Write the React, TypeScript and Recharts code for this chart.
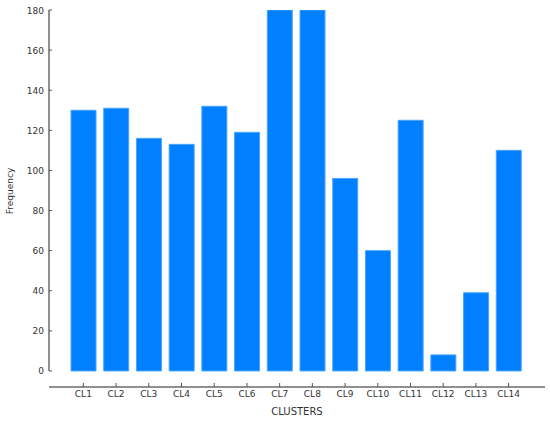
import { BarChart, Bar, XAxis, YAxis, ReferenceLine } from 'recharts';

const clusters = ['CL1', 'CL2', 'CL3', 'CL4', 'CL5', 'CL6', 'CL7', 'CL8', 'CL9', 'CL10', 'CL11', 'CL12', 'CL13', 'CL14'];
const frequency = [130, 131, 116, 113, 132, 119, 180, 180, 96, 60, 125, 8, 39, 110];
const yTicks = [0, 20, 40, 60, 80, 100, 120, 140, 160, 180];

const data = clusters.map((name, i) => ({ name, value: frequency[i] }));

const FONT = '"DejaVu Sans", Verdana, sans-serif';
const AXIS = '#6b6b6b';

// tick mark points up into the chart, label sits below the axis line
function XTick({ x, y, payload }: any) {
  return (
    <g>
      <line x1={x} x2={x} y1={y - 4} y2={y} stroke="#555" />
      <text x={x} y={y + 10} textAnchor="middle" fontSize={9} fontFamily={FONT} fill="#333">
        {payload.value}
      </text>
    </g>
  );
}

function YTick({ x, y, payload }: any) {
  return (
    <g>
      <line x1={x} x2={x + 3} y1={y} y2={y} stroke="#555" />
      <text x={x - 5} y={y + 3.5} textAnchor="end" fontSize={9} fontFamily={FONT} fill="#333">
        {payload.value}
      </text>
    </g>
  );
}

export default function App() {
  return (
    <div style={{ position: 'absolute', left: 0, top: 0 }}>
      <BarChart
        width={550}
        height={423}
        data={data}
        margin={{ top: 10, right: 5, left: 0, bottom: 0 }}
      >
        <XAxis
          dataKey="name"
          height={36}
          padding={{ left: 18, right: 20 }}
          axisLine={{ stroke: AXIS, strokeWidth: 1.5 }}
          tickLine={false}
          tickSize={0}
          tickMargin={0}
          interval={0}
          tick={<XTick />}
          label={{ value: 'CLUSTERS', position: 'insideBottom', offset: 8, fontSize: 10, fontFamily: FONT, fill: '#333' }}
        />
        {/* hidden helper axis so the y axis line can be drawn at the plot's left edge */}
        <XAxis xAxisId="edge" type="number" domain={[0, 1]} allowDataOverflow hide />
        {/* domain runs a little below zero so the x axis sits apart from the bars */}
        <YAxis
          width={49}
          domain={[-8, 180]}
          ticks={yTicks}
          allowDataOverflow
          axisLine={false}
          tickLine={false}
          tickSize={0}
          tickMargin={0}
          tick={<YTick />}
          label={{
            content: () => (
              <text x={13} y={191} transform="rotate(-90 13 191)" textAnchor="middle" fontSize={9} fontFamily={FONT} fill="#333">
                Frequency
              </text>
            ),
          }}
        />
        <Bar dataKey="value" fill="#0080ff" stroke="#4aa5ff" strokeWidth={1} barSize={25} isAnimationActive={false} />
        <ReferenceLine
          xAxisId="edge"
          segment={[{ x: 0, y: 0 }, { x: 0, y: 180 }]}
          stroke={AXIS}
          strokeWidth={1.5}
          ifOverflow="visible"
        />
      </BarChart>
    </div>
  );
}
